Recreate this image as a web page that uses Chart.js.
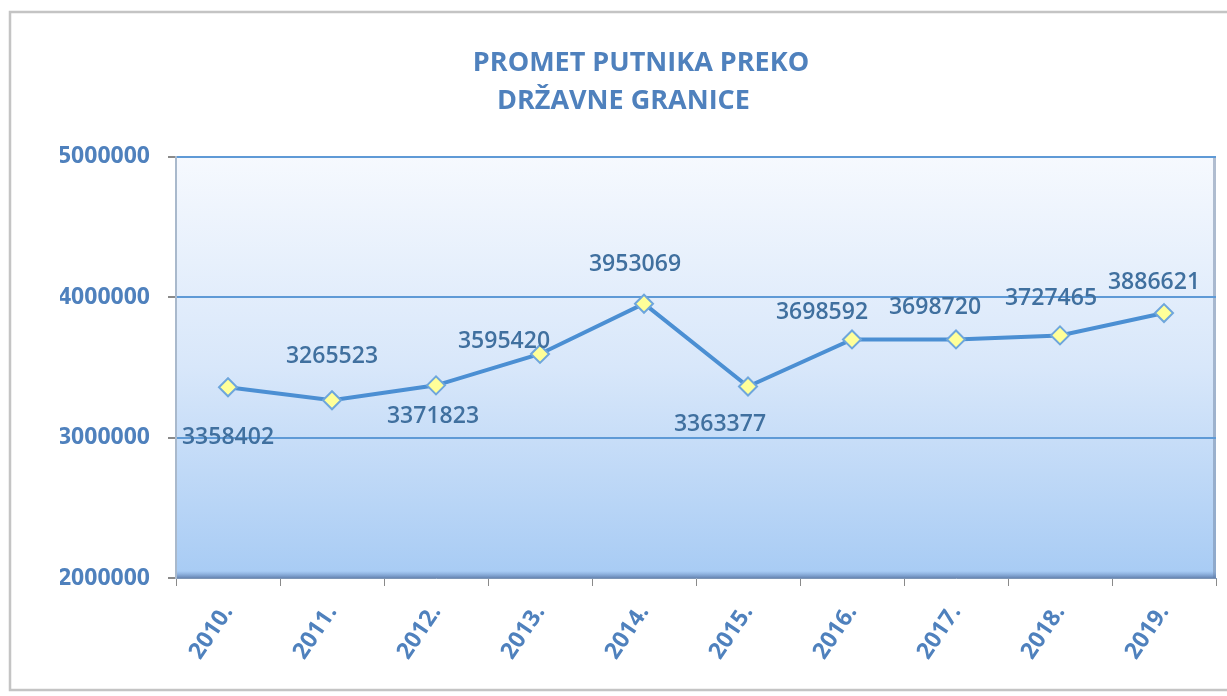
<!DOCTYPE html>
<html>
<head>
<meta charset="utf-8">
<script src="https://cdn.jsdelivr.net/npm/chart.js@4/dist/chart.umd.min.js"></script>
<style>
  body { margin: 0; background: #fff; }
  canvas { display: block; }
</style>
</head>
<body>
<canvas id="myChart" width="1227" height="696"></canvas>
<script>
const years = ['2010.', '2011.', '2012.', '2013.', '2014.', '2015.', '2016.', '2017.', '2018.', '2019.'];
const passengers = [3358402, 3265523, 3371823, 3595420, 3953069, 3363377, 3698592, 3698720, 3727465, 3886621];
const yTicks = [2000000, 3000000, 4000000, 5000000];
const titleLines = ['PROMET PUTNIKA PREKO', 'DRŽAVNE GRANICE     '];

// where each value label sits relative to its point (dx, dy)
const labelOffsets = [[0, 50], [0, -44], [-3, 31], [-36, -12], [-9, -39], [-28, 38], [-30, -27], [-21, -32], [-9, -37], [-10, -31]];

const textBlue = '#4f81bd';

// frame + plot area gradient
const backgroundPlugin = {
    id: 'plotBackground',
    beforeDraw(chart) {
        const c = chart.ctx;
        const a = chart.chartArea;
        c.save();
        c.strokeStyle = '#c4c4c4';
        c.lineWidth = 2.5;
        c.strokeRect(10, 12, 1240, 678);

        const g = c.createLinearGradient(0, a.top, 0, a.bottom);
        g.addColorStop(0, '#f6f9fe');
        g.addColorStop(0.5, '#d8e7fa');
        g.addColorStop(1, '#a7cbf4');
        c.fillStyle = g;
        c.fillRect(a.left, a.top, a.right - a.left, a.bottom - a.top);

        // bit of 3D edge on the right and bottom
        c.fillStyle = 'rgba(120,140,170,0.55)';
        c.fillRect(a.right - 3, a.top, 3, a.bottom - a.top);
        const gb = c.createLinearGradient(0, a.bottom - 7, 0, a.bottom);
        gb.addColorStop(0, 'rgba(110,150,205,0)');
        gb.addColorStop(1, 'rgba(95,125,170,0.9)');
        c.fillStyle = gb;
        c.fillRect(a.left, a.bottom - 7, a.right - a.left, 7);
        c.restore();
    }
};

// value labels next to the points
const valueLabelPlugin = {
    id: 'valueLabels',
    afterDatasetsDraw(chart) {
        const c = chart.ctx;
        const meta = chart.getDatasetMeta(0);
        c.save();
        c.font = '600 23px "Open Sans"';
        c.fillStyle = '#40709f';
        c.textAlign = 'center';
        c.textBaseline = 'middle';
        meta.data.forEach((pt, i) => {
            const off = labelOffsets[i];
            c.fillText(String(passengers[i]), pt.x + off[0], pt.y + off[1]);
        });
        c.restore();
    }
};

const ctx = document.getElementById('myChart').getContext('2d');
const myChart = new Chart(ctx, {
    type: 'line',
    data: {
        labels: years,
        datasets: [{
            data: passengers,
            borderColor: '#4b8fd3',
            borderWidth: 4,
            tension: 0,
            pointStyle: 'rectRot',
            pointRadius: 9,
            pointBackgroundColor: '#ffff99',
            pointBorderColor: '#6ea6dc',
            pointBorderWidth: 2
        }]
    },
    options: {
        responsive: false,
        animation: false,
        layout: { padding: { left: 60, right: 5, top: 0, bottom: 0 } },
        plugins: {
            legend: { display: false },
            tooltip: { enabled: false },
            title: {
                display: true,
                text: titleLines,
                color: textBlue,
                font: { family: 'Open Sans', size: 27, weight: 'bold', lineHeight: 1.42 },
                padding: { top: 44, bottom: 36 }
            }
        },
        scales: {
            x: {
                offset: true,
                afterFit(scale) { scale.height = 118; },
                grid: {
                    offset: true,
                    drawOnChartArea: false,
                    tickLength: 8,
                    tickColor: '#8a8a8a'
                },
                border: { color: '#7d95b5', width: 1 },
                ticks: {
                    color: textBlue,
                    font: { family: 'Open Sans', size: 23, weight: 'bold' },
                    minRotation: 56,
                    maxRotation: 56,
                    padding: 14
                }
            },
            y: {
                min: yTicks[0],
                max: yTicks[yTicks.length - 1],
                afterFit(scale) { scale.width = 116; },
                afterBuildTicks(scale) { scale.ticks = yTicks.map(v => ({ value: v })); },
                grid: {
                    color: c => c.tick && c.tick.value === yTicks[0] ? 'rgba(0,0,0,0)' : '#5f9ad6',
                    lineWidth: 2,
                    tickLength: 8,
                    tickColor: '#8a8a8a'
                },
                border: { color: '#a9b9cc', width: 2 },
                ticks: {
                    color: textBlue,
                    font: { family: 'Open Sans', size: 23, weight: 'bold' },
                    padding: 18,
                    callback: v => String(v)
                }
            }
        }
    },
    plugins: [backgroundPlugin, valueLabelPlugin]
});
</script>
</body>
</html>
